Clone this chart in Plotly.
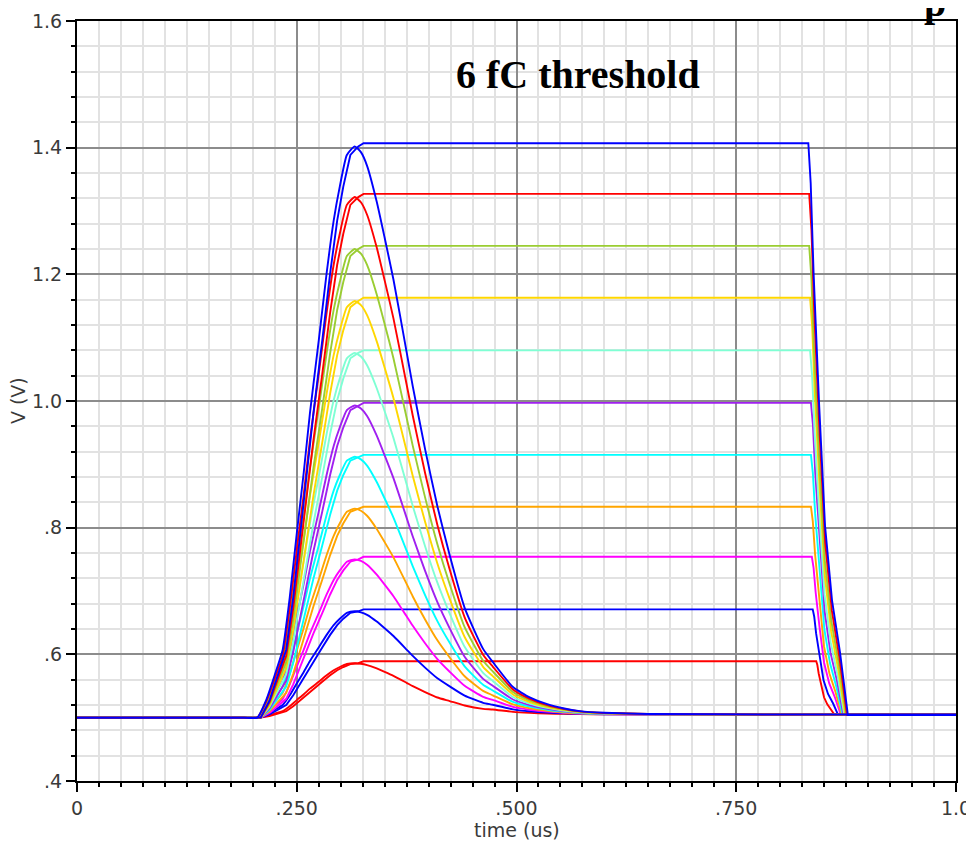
import plotly.graph_objects as go

# ---- data ----
colors = ["#0000ff", "#ff0000", "#9acd32", "#ffd700", "#7fffd4", "#a020f0",
          "#00ffff", "#ffa500", "#ff00ff", "#0000ff", "#ff0000"]
hold_levels = [1.407, 1.327, 1.245, 1.163, 1.080, 0.997, 0.915, 0.833, 0.754, 0.671, 0.589]
pulse_peaks = [1.402, 1.322, 1.240, 1.158, 1.076, 0.993, 0.912, 0.830, 0.750, 0.668, 0.586]
release_start = [0.832, 0.833, 0.833, 0.834, 0.834, 0.835, 0.835, 0.835, 0.836, 0.837, 0.841]
release_end = [0.877, 0.876, 0.875, 0.874, 0.873, 0.872, 0.871, 0.870, 0.869, 0.866, 0.862]
hold_stop = [1.0, 0.962, 1.0, 1.0, 1.0, 1.0, 1.0, 1.0, 1.0, 1.0, 0.962]

# normalised shaper pulse profile
pulse_t = [0.0, 0.10, 0.190, 0.205, 0.215, 0.225, 0.234, 0.242, 0.250, 0.258, 0.265, 0.275,
           0.284, 0.292, 0.299, 0.307, 0.316, 0.323, 0.330, 0.341, 0.350, 0.360, 0.375,
           0.382, 0.396, 0.410, 0.424, 0.441, 0.462, 0.473, 0.496, 0.515, 0.535, 0.553,
           0.572, 0.600, 0.650, 0.80, 1.0]
pulse_shape = [0.0, 0.0, 0.0, 0.0, 0.03, 0.075, 0.119, 0.21, 0.322, 0.43, 0.533, 0.66,
               0.778, 0.87, 0.93, 0.985, 1.0, 0.99, 0.966, 0.903, 0.84, 0.767, 0.64,
               0.58, 0.47, 0.37, 0.282, 0.189, 0.116, 0.092, 0.048, 0.030, 0.018, 0.011,
               0.006, 0.003, 0.001, 0.0, 0.0]
pulse_base = [0.5] * 26 + [0.502, 0.503, 0.504, 0.505, 0.505, 0.505, 0.505, 0.505,
                           0.505, 0.505, 0.505, 0.505, 0.505]
hold_lag = 0.004
hold_settle = 0.504
# normalised release profile of the held outputs
release_u = [0.0, 0.06, 0.133, 0.267, 0.422, 0.6, 0.8, 1.0]
release_shape = [1.0, 0.93, 0.773, 0.552, 0.331, 0.2, 0.11, 0.0]

x_ticks = [0, 0.25, 0.5, 0.75, 1.0]
x_ticktext = ["0", ".250", ".500", ".750", "1.0"]
y_ticks = [0.4, 0.6, 0.8, 1.0, 1.2, 1.4, 1.6]
y_ticktext = [".4", ".6", ".8", "1.0", "1.2", "1.4", "1.6"]

fig = go.Figure()
n = len(colors)
for i in reversed(range(n)):
    amp = pulse_peaks[i] - 0.5
    py = [b + amp * s for b, s in zip(pulse_base, pulse_shape)]
    # held output: follows the pulse rise, holds, then released
    hx, hy = [], []
    for t, s in zip(pulse_t, pulse_shape):
        if t > 0.316:
            break
        hx.append(t + hold_lag if t > 0 else t)
        hy.append(0.5 + amp * s)
    hx.append(0.326)
    hy.append(hold_levels[i])
    dur = release_end[i] - release_start[i]
    for u, s in zip(release_u, release_shape):
        hx.append(release_start[i] + u * dur)
        hy.append(hold_settle + (hold_levels[i] - hold_settle) * s)
    hx.append(hold_stop[i])
    hy.append(hold_settle)
    fig.add_trace(go.Scatter(x=hx, y=hy, mode="lines",
                             line=dict(color=colors[i], width=1.9),
                             hoverinfo="skip"))
    fig.add_trace(go.Scatter(x=pulse_t, y=py, mode="lines",
                             line=dict(color=colors[i], width=1.9, shape="spline", smoothing=0.5),
                             hoverinfo="skip"))

tickfont = dict(family="DejaVu Sans", size=19, color="#3a3a3a")
axis_common = dict(
    showline=True, linecolor="black", linewidth=2, mirror=True,
    ticks="outside", ticklen=9, tickwidth=1.5, tickcolor="black",
    showgrid=True, gridcolor="#8c8c8c", gridwidth=1.5,
    zeroline=False, tickfont=tickfont, automargin=False,
)
fig.update_xaxes(range=[0, 1.0], tickvals=x_ticks, ticktext=x_ticktext,
                 minor=dict(dtick=0.025, tick0=0, ticks="outside", ticklen=4,
                            tickcolor="black", tickwidth=1.5,
                            showgrid=True, gridcolor="#e2e2e2", gridwidth=1.5),
                 **axis_common)
fig.update_yaxes(range=[0.4, 1.6], tickvals=y_ticks, ticktext=y_ticktext,
                 minor=dict(dtick=0.04, tick0=0.4, ticks="outside", ticklen=4,
                            tickcolor="black", tickwidth=1.5,
                            showgrid=True, gridcolor="#e2e2e2", gridwidth=1.5),
                 **axis_common)

# the page body adds an 8px offset, so the figure is sized 966x834
fig.update_layout(
    width=966, height=834,
    margin=dict(l=69, r=18, t=13, b=61, autoexpand=False),
    paper_bgcolor="white", plot_bgcolor="white",
    showlegend=False,
    annotations=[
        dict(text="time (us)", x=0.5, y=-0.064, xref="paper", yref="paper",
             xanchor="center", yanchor="middle", showarrow=False,
             font=dict(family="DejaVu Sans", size=19, color="#3a3a3a")),
        dict(text="V (V)", x=-0.067, y=0.5, xref="paper", yref="paper",
             xanchor="center", yanchor="middle", showarrow=False, textangle=-90,
             font=dict(family="DejaVu Sans", size=19, color="#3a3a3a")),
        dict(text="<b>6 fC threshold</b>", x=0.570, y=0.930, xref="paper", yref="paper",
             xanchor="center", yanchor="middle", showarrow=False,
             font=dict(family="Liberation Serif", size=40, color="black")),
        dict(text="<b>p</b>", x=0.976, y=1.024, xref="paper", yref="paper",
             xanchor="center", yanchor="middle", showarrow=False,
             font=dict(family="Liberation Serif", size=40, color="black")),
    ],
)

fig.write_html("out.html")
